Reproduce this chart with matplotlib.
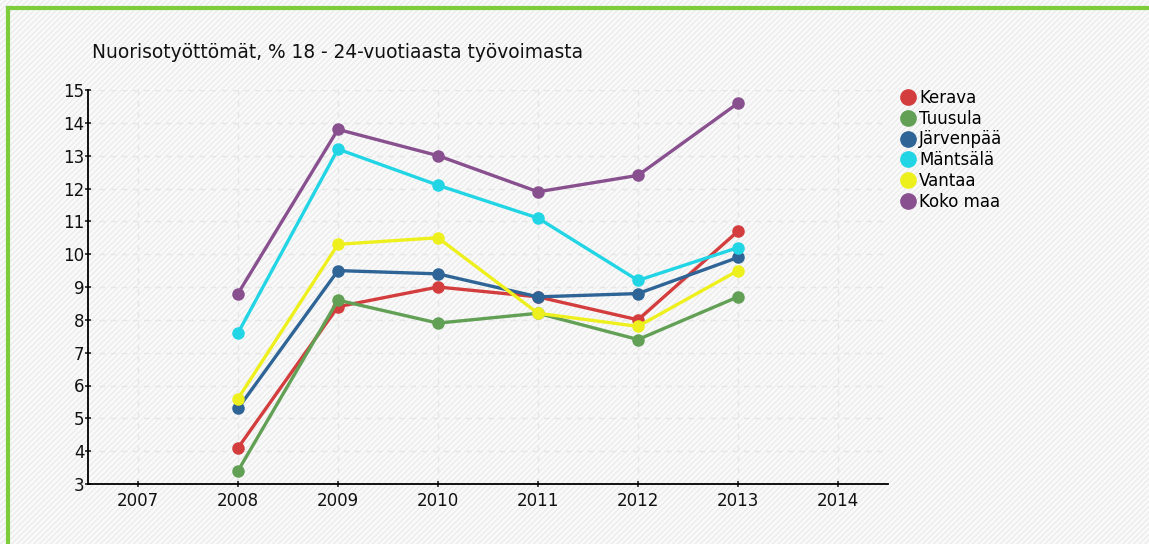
import matplotlib.pyplot as plt
from matplotlib.patches import Rectangle
from matplotlib.lines import Line2D

plt.rcParams['font.family'] = ['DejaVu Sans']

years = [2008, 2009, 2010, 2011, 2012, 2013]
kerava = [4.1, 8.4, 9.0, 8.7, 8.0, 10.7]
tuusula = [3.4, 8.6, 7.9, 8.2, 7.4, 8.7]
jarvenpaa = [5.3, 9.5, 9.4, 8.7, 8.8, 9.9]
mantsala = [7.6, 13.2, 12.1, 11.1, 9.2, 10.2]
vantaa = [5.6, 10.3, 10.5, 8.2, 7.8, 9.5]
koko_maa = [8.8, 13.8, 13.0, 11.9, 12.4, 14.6]

names = ["Kerava", "Tuusula", "Järvenpää", "Mäntsälä", "Vantaa", "Koko maa"]
colors = ["#d43d3d", "#62a055", "#2e6596", "#22d5e5", "#eef01e", "#88508e"]
series = [kerava, tuusula, jarvenpaa, mantsala, vantaa, koko_maa]

fig = plt.figure(figsize=(11.49, 5.44), dpi=100)
fig.patch.set_facecolor("#fafafa")
# hatched background like the original
bg = Rectangle((0, 0), 1, 1, transform=fig.transFigure, facecolor="#fafafa",
               edgecolor="#ececec", hatch="//////", linewidth=0, zorder=-10)
fig.patches.append(bg)
# green frame on left and top
fig.add_artist(Line2D([8 / 1149, 8 / 1149], [0, 1 - 8 / 544], color="#7ccc3c", lw=3))
fig.add_artist(Line2D([8 / 1149, 1], [1 - 8 / 544, 1 - 8 / 544], color="#7ccc3c", lw=3))

ax = fig.add_axes([88 / 1149, 60 / 544, 800 / 1149, 394 / 544])
ax.set_facecolor("none")

for name, vals, c in zip(names, series, colors):
    ax.plot(years, vals, color=c, lw=2.4, marker="o", ms=8, label=name,
            solid_capstyle="round")

ax.set_xlim(2006.5, 2014.5)
ax.set_ylim(3, 15)
ax.set_xticks(range(2007, 2015))
ax.set_yticks(range(3, 16))
ax.grid(True, linestyle=(0, (4, 4)), color="#e6e6e6", lw=1)
for s in ["top", "right"]:
    ax.spines[s].set_visible(False)
ax.spines["left"].set_linewidth(1.3)
ax.spines["bottom"].set_linewidth(1.3)
ax.tick_params(axis="both", labelsize=12, colors="#111111", length=5,
               width=1.1, direction="inout")
ax.tick_params(axis="y", pad=0)

fig.text(92 / 1149, 1 - 52 / 544, "Nuorisotyöttömät, % 18 - 24-vuotiaasta työvoimasta",
         fontsize=13.4, va="center", ha="left", color="#111111")

ax.legend(loc="upper left", bbox_to_anchor=(1.01, 1.02), frameon=False,
          fontsize=12, handlelength=0.6, handletextpad=0.4, labelspacing=0.17,
          borderaxespad=0)
for h in ax.get_legend().legend_handles:
    h.set_linestyle("none")
    h.set_markersize(11)

fig.savefig("out.png", dpi=100)
